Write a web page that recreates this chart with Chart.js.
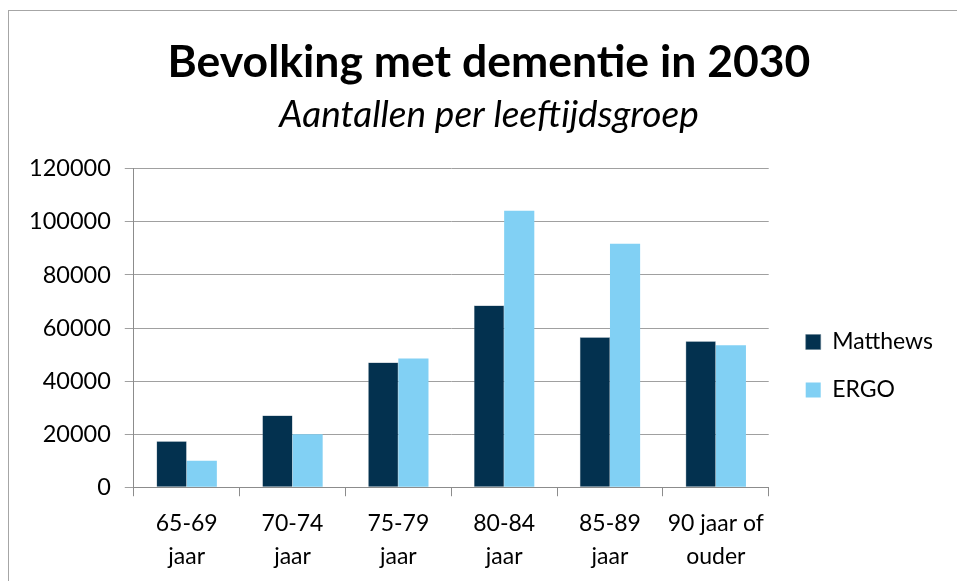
<!DOCTYPE html>
<html>
<head>
<meta charset="utf-8">
<script src="https://cdn.jsdelivr.net/npm/chart.js@4"></script>
<style>
    body { margin: 0; background: #fff; }
    #wrap { position: relative; width: 957px; height: 581px; }
    #frame { position: absolute; left: 8px; top: 10px; width: 960px; height: 600px; border: 1px solid #a6a6a6; }
    #chart { position: absolute; left: 0; top: 0; }
</style>
</head>
<body>
<div id="wrap">
    <div id="frame"></div>
    <canvas id="chart" width="957" height="581"></canvas>
</div>
<script>
// Data
const categories = [['65-69', 'jaar'], ['70-74', 'jaar'], ['75-79', 'jaar'], ['80-84', 'jaar'], ['85-89', 'jaar'], ['90 jaar of', 'ouder']];
const matthews = [17300, 27000, 47000, 68500, 56500, 55000];
const ergo = [10000, 20000, 48500, 104200, 91800, 53500];
const seriesNames = ['Matthews', 'ERGO'];
const yTicks = [0, 20000, 40000, 60000, 80000, 100000, 120000];

const FONT = 'Lato, Calibri, sans-serif';

// Nudge legend and titles to where the original puts them
const boxShift = {
    id: 'boxShift',
    afterLayout: function(chart) {
        chart.boxes.forEach(function(box) {
            if (box === chart.legend) {
                box.left += 12;
                box.right += 12;
                box.top += 56;
                box.bottom += 56;
            } else if (box.options && box.options.text !== undefined && box.position === 'top') {
                // title and subtitle: centre on the frame instead of the canvas
                box.left += 16;
                box.right += 16;
            }
        });
    }
};

document.addEventListener('DOMContentLoaded', function() {
    const ctx = document.getElementById('chart').getContext('2d');

    new Chart(ctx, {
        type: 'bar',
        data: {
            labels: categories,
            datasets: [{
                label: seriesNames[0],
                data: matthews,
                backgroundColor: '#03314f',
                borderColor: '#5f7a8c',
                borderWidth: 0.5
            }, {
                label: seriesNames[1],
                data: ergo,
                backgroundColor: '#81d0f4',
                borderColor: '#81d0f4',
                borderWidth: 0
            }]
        },
        plugins: [boxShift],
        options: {
            responsive: false,
            animation: false,
            layout: {
                padding: { left: 15, right: 26, top: 36, bottom: -3 }
            },
            datasets: {
                bar: {
                    categoryPercentage: 0.57,
                    barPercentage: 1.0
                }
            },
            plugins: {
                title: {
                    display: true,
                    text: 'Bevolking met dementie in 2030',
                    color: '#000',
                    font: { family: FONT, size: 44.5, weight: 'bold' },
                    padding: { top: 0, bottom: 3 }
                },
                subtitle: {
                    display: true,
                    text: 'Aantallen per leeftijdsgroep',
                    color: '#000',
                    font: { family: FONT, size: 37, style: 'italic' },
                    padding: { top: 0, bottom: 32 }
                },
                legend: {
                    position: 'right',
                    labels: {
                        color: '#000',
                        font: { family: FONT, size: 23 },
                        boxWidth: 15,
                        boxHeight: 15,
                        padding: 25
                    }
                },
                tooltip: { enabled: false }
            },
            scales: {
                x: {
                    grid: {
                        drawOnChartArea: false,
                        drawTicks: true,
                        tickLength: 9,
                        color: '#8c8c8c'
                    },
                    border: { color: '#8c8c8c' },
                    ticks: {
                        color: '#000',
                        font: { family: FONT, size: 23, lineHeight: 1.43 },
                        maxRotation: 0,
                        padding: 11
                    }
                },
                y: {
                    min: 0,
                    max: 120000,
                    afterBuildTicks: function(axis) {
                        axis.ticks = yTicks.map(v => ({ value: v }));
                    },
                    grid: {
                        color: '#a0a0a0',
                        tickLength: 9
                    },
                    border: { color: '#8c8c8c' },
                    ticks: {
                        color: '#000',
                        font: { family: FONT, size: 23.5 },
                        padding: 14,
                        callback: function(value) { return String(value); }
                    }
                }
            }
        }
    });
});
</script>
</body>
</html>
